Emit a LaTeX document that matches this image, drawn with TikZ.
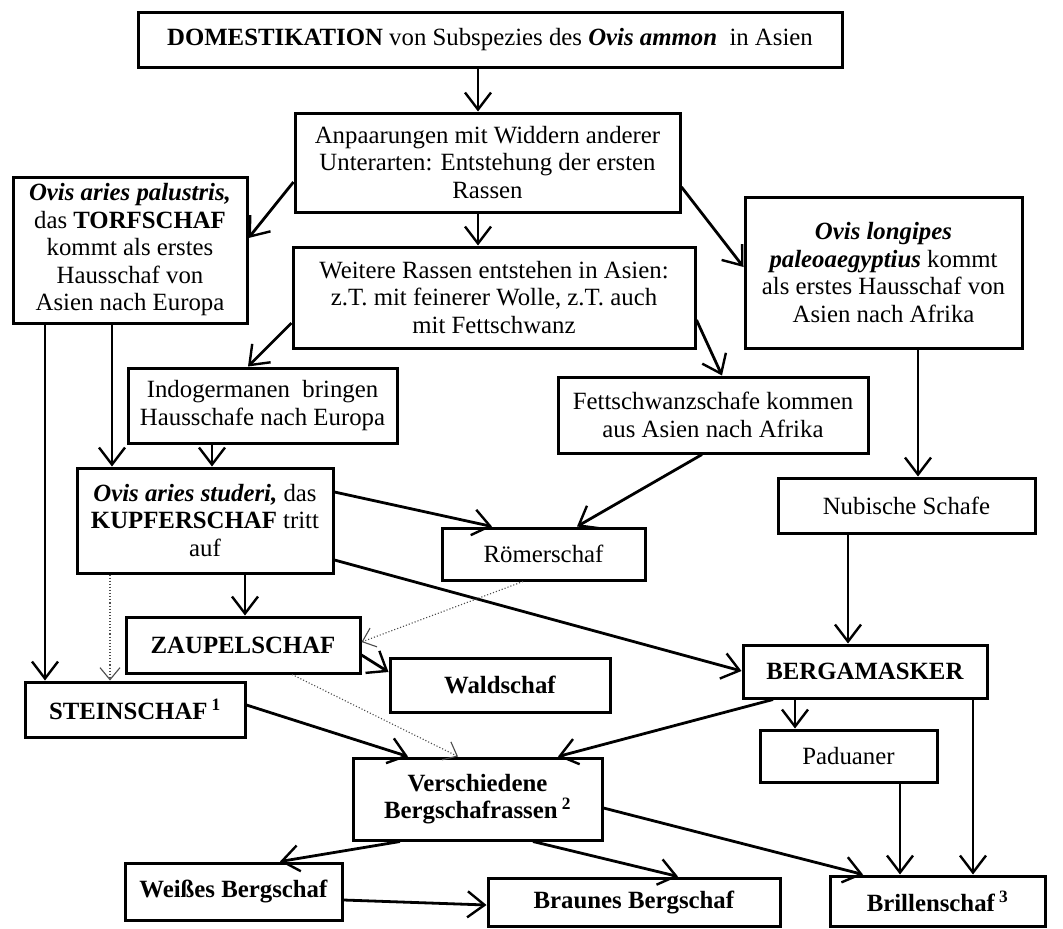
\documentclass[tikz,border=0pt]{standalone}
\usepackage{fontspec}
\setmainfont{Liberation Serif}
\usetikzlibrary{arrows.meta,calc}
\begin{document}
\begin{tikzpicture}[x=1pt,y=-1pt,
  box/.style={draw=black,line width=3pt,inner sep=0pt,align=center,
    font=\fontsize{24.8}{27.5}\selectfont},
  conn/.style={line width=2.8pt,-{Straight Barb[length=17pt,width=26pt,line width=2.4pt]}},
  dotconn/.style={line width=1.1pt,draw=black!70,dotted,-{Straight Barb[length=12pt,width=20pt,line width=1.1pt]}}
]
\useasboundingbox (0,0) rectangle (1063,929);
\fill[white] (0,0) rectangle (1063,929);

\node[box,minimum width=704pt,minimum height=55pt] (dom) at (490,39.5)
  {\textbf{DOMESTIKATION} von Subspezies des \textbf{\textit{Ovis ammon}}\ \ in Asien};
\node[box,minimum width=385pt,minimum height=99pt] (anp) at (487.5,162.5)
  {Anpaarungen mit Widdern anderer\\Unterarten: Entstehung der ersten\\Rassen};
\node[box,minimum width=402pt,minimum height=101pt] (wei) at (494,297.5)
  {Weitere Rassen entstehen in Asien:\\z.T. mit feinerer Wolle, z.T. auch\\mit Fettschwanz};
\node[box,minimum width=234pt,minimum height=146pt] (torf) at (130,250)
  {\textbf{\textit{Ovis aries palustris,}}\\das \textbf{TORFSCHAF}\\kommt als erstes\\Hausschaf von\\Asien nach Europa};
\node[box,minimum width=277pt,minimum height=151pt] (longi) at (883.5,272.5)
  {\textbf{\textit{Ovis longipes}}\\\textbf{\textit{paleoaegyptius}} kommt\\als erstes Hausschaf von\\Asien nach Afrika};
\node[box,minimum width=269pt,minimum height=75pt] (indo) at (262.5,405.5)
  {Indogermanen\ \ bringen\\Hausschafe nach Europa};
\node[box,minimum width=310pt,minimum height=76pt] (fett) at (713,415)
  {Fettschwanzschafe kommen\\aus Asien nach Afrika};
\node[box,minimum width=256pt,minimum height=105pt] (kupf) at (205,520.5)
  {\textbf{\textit{Ovis aries studeri,}} das\\\textbf{KUPFERSCHAF} tritt\\auf};
\node[box,minimum width=203pt,minimum height=52pt] (roem) at (543.5,554)
  {Römerschaf};
\node[box,minimum width=257pt,minimum height=55pt] (nub) at (906.5,505.5)
  {Nubische Schafe};
\node[box,minimum width=234pt,minimum height=56pt] (zaup) at (243,645)
  {\textbf{ZAUPELSCHAF}};
\node[box,minimum width=220pt,minimum height=54pt] (wald) at (500,685)
  {\textbf{Waldschaf}};
\node[box,minimum width=244pt,minimum height=53pt] (berg) at (865,671.5)
  {\textbf{BERGAMASKER}};
\node[box,minimum width=220pt,minimum height=55pt] (stein) at (135,709.5)
  {\textbf{STEINSCHAF\,\textsuperscript{1}}};
\node[box,minimum width=177pt,minimum height=52pt] (padu) at (848.5,756)
  {Paduaner};
\node[box,minimum width=249pt,minimum height=82pt] (versch) at (477.5,799)
  {\textbf{Verschiedene}\\\textbf{Bergschafrassen\,\textsuperscript{2}}};
\node[box,minimum width=217pt,minimum height=57pt] (weiss) at (233.5,891.5)
  {\textbf{Weißes Bergschaf}};
\node[box,minimum width=292pt,minimum height=48pt] (braun) at (634,902)
  {\textbf{Braunes Bergschaf}};
\node[box,minimum width=215pt,minimum height=50pt] (brill) at (937.5,901)
  {\textbf{Brillenschaf\,\textsuperscript{3}}};

% connectors
\draw[conn] (dom.south -| 478,0) -- (anp.north -| 478,0);
\draw[conn] (anp.south -| 478,0) -- (wei.north -| 478,0);
\draw[conn] (anp.west |- 0,182) -- (torf.east |- 0,238);
\draw[conn] (anp.east |- 0,187) -- (longi.west |- 0,267);
\draw[conn] (wei.west |- 0,323) -- (indo.north -| 248,0);
\draw[conn] (wei.east |- 0,320) -- (fett.north -| 722,0);
\draw[conn] (torf.south -| 45,0) -- (stein.north -| 45,0);
\draw[conn] (torf.south -| 112,0) -- (kupf.north -| 112,0);
\draw[conn] (indo.south -| 212,0) -- (kupf.north -| 212,0);
\draw[conn] (kupf.east |- 0,492) -- (roem.north -| 492,0);
\draw[conn] (kupf.east |- 0,560) -- (berg.west |- 0,671);
\draw[conn] (kupf.south -| 245,0) -- (zaup.north -| 245,0);
\draw[dotconn] (kupf.south -| 110,0) -- (stein.north -| 110,0);
\draw[conn] (fett.south -| 702,0) -- (roem.north -| 577,0);
\draw[conn] (longi.south -| 918,0) -- (nub.north -| 918,0);
\draw[conn] (nub.south -| 848,0) -- (berg.north -| 848,0);
\draw[dotconn] (roem.south -| 523,0) -- (zaup.east |- 0,642);
\draw[conn] (zaup.east |- 0,655) -- (wald.west |- 0,672);
\draw[dotconn] (zaup.south -| 292,0) -- (versch.north -| 458,0);
\draw[conn] (stein.east |- 0,705) -- (versch.north -| 408,0);
\draw[conn] (berg.south -| 773,0) -- (versch.north -| 558,0);
\draw[conn] (berg.south -| 795,0) -- (padu.north -| 795,0);
\draw[conn] (berg.south -| 973,0) -- (brill.north -| 973,0);
\draw[conn] (padu.south -| 900,0) -- (brill.north -| 900,0);
\draw[conn] (versch.east |- 0,808) -- (brill.north -| 863,0);
\draw[conn] (versch.south -| 400,0) -- (weiss.north -| 280,0);
\draw[conn] (versch.south -| 533,0) -- (braun.north -| 678,0);
\draw[conn] (weiss.east |- 0,900) -- (braun.west |- 0,905);
\end{tikzpicture}
\end{document}
